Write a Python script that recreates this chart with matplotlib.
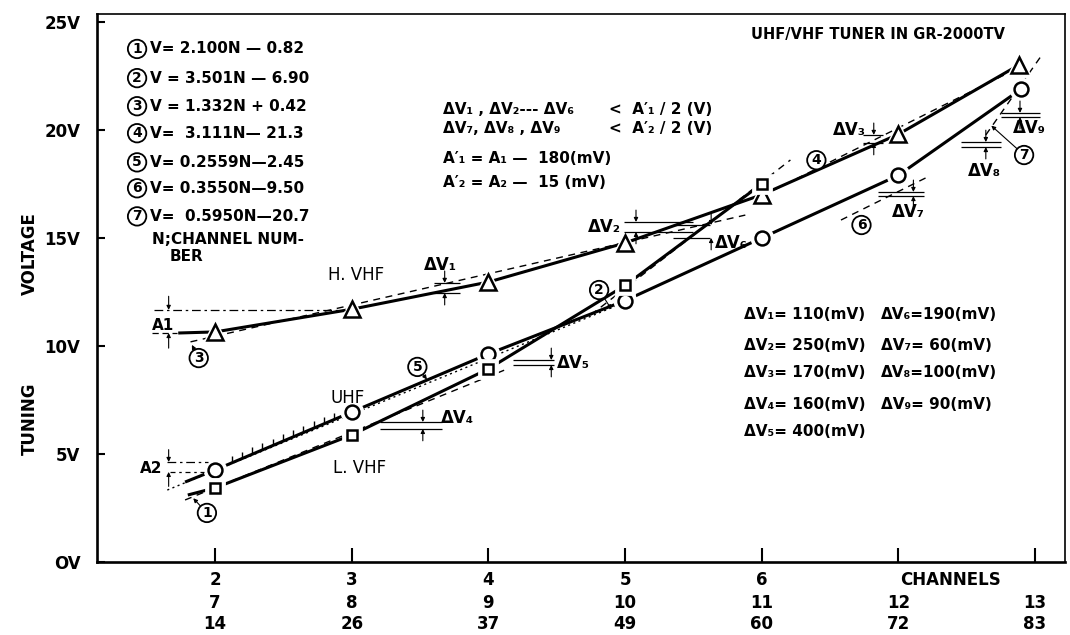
import matplotlib
matplotlib.use("Agg")
import matplotlib.pyplot as plt
import numpy as np

plt.rcParams['font.family'] = ['DejaVu Sans']
plt.rcParams['font.weight'] = 'bold'

# channel columns (three rows of channel numbers under each tick)
col = [0, 1, 2, 3, 4, 5, 6]
row_lvhf = ['2', '3', '4', '5', '6', '', '']
row_hvhf = ['7', '8', '9', '10', '11', '12', '13']
row_uhf = ['14', '26', '37', '49', '60', '72', '83']
y_ticks = [0, 5, 10, 15, 20, 25]

# measured tuning voltages (V), first point = start of drawn curve
uhf_x = [-0.22, 0, 1, 2, 3, 4, 5, 5.9]
uhf_v = [3.7, 4.26, 6.94, 9.63, 12.1, 15.0, 17.9, 21.9]
hvhf_x = [-0.27, 0, 1, 2, 3, 4, 5, 5.88]
hvhf_v = [10.6, 10.65, 11.7, 12.96, 14.77, 17.0, 19.8, 23.0]
lvhf_x = [-0.2, 0, 1, 2, 3, 4]
lvhf_v = [3.1, 3.43, 5.88, 8.94, 12.8, 17.5]

# linear approximations 1..7 (dashed), end points
fit_no = ['1', '2', '3', '4', '5', '6', '7']
fit_x0 = [-0.22, 2.75, -0.18, 4.09, -0.35, 4.58, 5.64]
fit_x1 = [2.12, 4.21, 3.88, 5.82, 3.04, 5.2, 6.04]
fit_v0 = [2.87, 11.44, 10.19, 17.22, 3.33, 15.83, 19.77]
fit_v1 = [8.89, 18.61, 16.06, 22.69, 12.13, 17.78, 23.38]
fit_eq = ['V= 2.100N \u2014 0.82', 'V = 3.501N \u2014 6.90', 'V = 1.332N + 0.42',
          'V=  3.111N\u2014 21.3', 'V= 0.2559N\u20142.45', 'V= 0.3550N\u20149.50',
          'V=  0.5950N\u201420.7']

# deviation of the approximations (mV)
dv_mv = [110, 250, 170, 160, 400, 190, 60, 100, 90]

sub = str.maketrans('0123456789', '\u2080\u2081\u2082\u2083\u2084\u2085\u2086\u2087\u2088\u2089')

fig = plt.figure(figsize=(10.7, 6.35), dpi=100)
ax = fig.add_axes([0.0907, 0.115, 0.9047, 0.863])
ax.set_xlim(-0.864, 6.22)
ax.set_ylim(0, 25.37)

for s in ['left', 'bottom']:
    ax.spines[s].set_linewidth(1.9)
for s in ['top', 'right']:
    ax.spines[s].set_linewidth(1.2)

ax.set_yticks(y_ticks)
ax.set_yticklabels(['OV' if t == 0 else '%dV' % t for t in y_ticks], fontsize=12)
ax.set_xticks(col)
ax.tick_params(axis='y', direction='in', length=6, width=1.5, pad=12)
ax.tick_params(axis='x', direction='in', length=10, width=1.5, labelbottom=False)

# channel number rows under the axis
xt = ax.get_xaxis_transform()
for row, yr in [(row_lvhf, -0.033), (row_hvhf, -0.074), (row_uhf, -0.114)]:
    for c, lab in zip(col, row):
        if lab:
            ax.text(c, yr, lab, transform=xt, ha='center', va='center', fontsize=12)
ax.text(5.38, -0.033, 'CHANNELS', transform=xt, ha='center', va='center', fontsize=12)

fig.text(0.028, 0.6, 'VOLTAGE', rotation=90, ha='center', va='center', fontsize=12)
fig.text(0.028, 0.34, 'TUNING', rotation=90, ha='center', va='center', fontsize=12)

# dashed linear approximations
for i in range(len(fit_no)):
    ls = (0, (1.5, 2.5)) if fit_no[i] == '5' else (0, (5, 4))
    ax.plot([fit_x0[i], fit_x1[i]], [fit_v0[i], fit_v1[i]], color='k', lw=1, ls=ls)

# measured curves
for xs, vs in [(uhf_x, uhf_v), (hvhf_x, hvhf_v), (lvhf_x, lvhf_v)]:
    ax.plot(xs, vs, color='k', lw=2.2, solid_capstyle='butt')

# hatch under the UHF segment 14-26
hx = np.arange(0.12, 0.95, 0.075)
hy = np.interp(hx, uhf_x, uhf_v)
ax.vlines(hx, hy + 0.05, hy + 0.32, color='k', lw=1)

# markers with a white halo to open gaps in the lines
for xs, vs, m, ms in [(uhf_x[1:], uhf_v[1:], 'o', 10), (hvhf_x[1:], hvhf_v[1:], '^', 11),
                      (lvhf_x[1:], lvhf_v[1:], 's', 7.5)]:
    ax.plot(xs, vs, ls='none', marker=m, ms=ms + 5, mfc='white', mec='white', mew=2)
    ax.plot(xs, vs, ls='none', marker=m, ms=ms, mfc='white', mec='k', mew=1.8)

# A1 / A2 spans
ax.plot([-0.45, 0.95], [11.67, 11.67], color='k', lw=0.9, ls=(0, (7, 3, 2, 3)))
ax.plot([-0.46, -0.28], [10.6, 10.6], color='k', lw=0.9, ls=(0, (5, 3)))
ax.plot([-0.35, -0.05], [4.63, 4.63], color='k', lw=0.9, ls=(0, (7, 3, 2, 3)))
ax.plot([-0.33, -0.08], [4.17, 4.17], color='k', lw=0.9, ls=(0, (4, 3, 2, 3)))
arr = dict(arrowstyle='-|>', lw=0.8, color='k', mutation_scale=6, shrinkA=0, shrinkB=0)
for xa, y0, y1 in [(-0.34, 12.3, 11.67), (-0.34, 9.9, 10.6), (-0.34, 5.2, 4.63), (-0.34, 3.5, 4.17)]:
    ax.annotate('', xy=(xa, y1), xytext=(xa, y0), arrowprops=arr)
ax.text(-0.38, 10.95, 'A1', ha='center', va='center', fontsize=11)
ax.text(-0.47, 4.35, 'A2', ha='center', va='center', fontsize=11)

# delta V markers: left, right, top, bottom, arrow x, label x, label y, align
dv_marks = [(1.6, 1.79, 12.92, 12.45, 1.68, 1.65, 13.75, 'center'),
            (2.99, 3.5, 15.74, 15.28, 3.08, 2.97, 15.5, 'right'),
            (4.74, 4.89, 19.77, 19.4, 4.82, 4.76, 20.0, 'right'),
            (1.21, 1.66, 6.48, 6.16, 1.52, 1.65, 6.65, 'left'),
            (2.18, 2.48, 9.35, 9.12, 2.46, 2.5, 9.2, 'left'),
            (3.35, 3.62, 15.6, 15.0, 3.63, 3.66, 14.75, 'left'),
            (4.85, 5.19, 17.13, 16.94, 5.11, 5.07, 16.2, 'center'),
            (5.46, 5.75, 19.44, 19.21, 5.64, 5.63, 18.1, 'center'),
            (5.75, 6.04, 20.79, 20.6, 5.89, 5.96, 20.1, 'center')]
for k, (xl, xr, vt, vb, xa, lx, ly, ha) in enumerate(dv_marks):
    ax.hlines([vt, vb], xl, xr, color='k', lw=0.9)
    ax.annotate('', xy=(xa, vt), xytext=(xa, vt + 0.55), arrowprops=arr)
    ax.annotate('', xy=(xa, vb), xytext=(xa, vb - 0.55), arrowprops=arr)
    ax.text(lx, ly, '\u0394V' + str(k + 1).translate(sub), ha=ha, va='center', fontsize=12)


def circled(x, y, s, fs=10):
    ax.text(x, y, s, ha='center', va='center', fontsize=fs,
            bbox=dict(boxstyle='circle,pad=0.16', fc='white', ec='k', lw=1.3))


# circled numbers on the curves
circ_pos = [(-0.06, 2.27, -0.16, 2.95), (2.81, 12.59, 2.9, 11.7), (-0.12, 9.44, -0.17, 10.05),
            (4.4, 18.6, None, None), (1.48, 9.03, 1.55, 8.45), (4.73, 15.6, None, None),
            (5.92, 18.84, 5.68, 20.2)]
for n, (cx, cy, tx, ty) in zip(fit_no, circ_pos):
    if tx is not None:
        ax.annotate('', xy=(tx, ty), xytext=(cx, cy), arrowprops=dict(
            arrowstyle='-|>', lw=0.8, color='k', mutation_scale=6, shrinkA=7, shrinkB=0))
    circled(cx, cy, n)

# equation list
eq_v = [23.75, 22.4, 21.1, 19.85, 18.5, 17.3, 16.0]
for n, e, yv in zip(fit_no, fit_eq, eq_v):
    circled(-0.571, yv, n)
    ax.text(-0.48, yv, e, ha='left', va='center', fontsize=11)
ax.text(-0.46, 14.95, 'N;CHANNEL NUM-', ha='left', va='center', fontsize=11)
ax.text(-0.33, 14.15, 'BER', ha='left', va='center', fontsize=11)

# curve names and title
ax.text(1.03, 13.3, 'H. VHF', ha='center', va='center', fontsize=12, fontweight='normal')
ax.text(0.97, 7.6, 'UHF', ha='center', va='center', fontsize=12, fontweight='normal')
ax.text(1.06, 4.35, 'L. VHF', ha='center', va='center', fontsize=12, fontweight='normal')
ax.text(3.92, 24.4, 'UHF/VHF TUNER IN GR-2000TV', ha='left', va='center', fontsize=10.5)

# tolerance statements
ax.text(1.67, 20.97, '\u0394V\u2081 , \u0394V\u2082--- \u0394V\u2086', ha='left', va='center', fontsize=11)
ax.text(2.88, 20.97, '<  A\u2032\u2081 / 2 (V)', ha='left', va='center', fontsize=11)
ax.text(1.67, 20.09, '\u0394V\u2087, \u0394V\u2088 , \u0394V\u2089', ha='left', va='center', fontsize=11)
ax.text(2.88, 20.09, '<  A\u2032\u2082 / 2 (V)', ha='left', va='center', fontsize=11)
ax.text(1.67, 18.7, 'A\u2032\u2081 = A\u2081 \u2014  180(mV)', ha='left', va='center', fontsize=11)
ax.text(1.67, 17.59, 'A\u2032\u2082 = A\u2082 \u2014  15 (mV)', ha='left', va='center', fontsize=11)

# deviation table
tab_v = [11.44, 10.0, 8.75, 7.31, 6.06]
for k, mv in enumerate(dv_mv):
    name = '\u0394V' + str(k + 1).translate(sub)
    if k < 5:
        ax.text(3.87, tab_v[k], '%s= %d(mV)' % (name, mv), ha='left', va='center', fontsize=11)
    else:
        ax.text(4.87, tab_v[k - 5], '%s=%3d(mV)' % (name, mv), ha='left', va='center', fontsize=11)

fig.savefig('out.png', dpi=100)
